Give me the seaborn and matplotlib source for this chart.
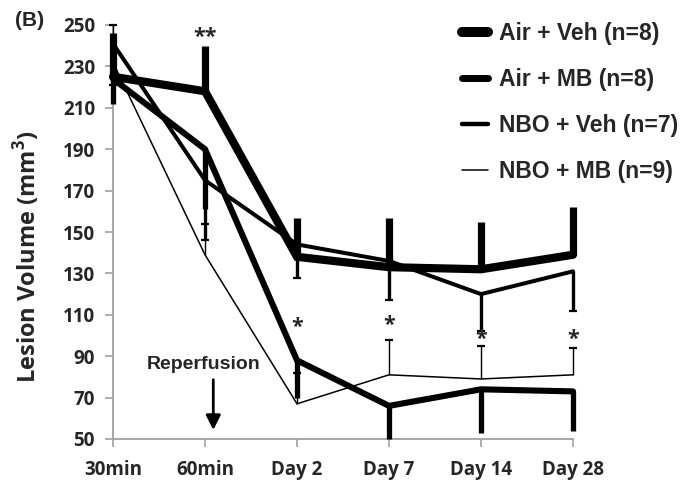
import numpy as np
import pandas as pd
import matplotlib
matplotlib.use("Agg")
import matplotlib.pyplot as plt
import seaborn as sns

# ---- data ----
x_labels = ["30min", "60min", "Day 2", "Day 7", "Day 14", "Day 28"]
air_veh = [225, 218, 138, 133, 132, 139]
air_veh_err_up = [21, 22, 19, 24, 23, 23]
air_mb = [224, 190, 88, 66, 74, 73]
air_mb_err_down = [12, 29, 18, 16, 21, 19]
nbo_veh = [241, 175, 144, 136, 120, 131]
nbo_veh_err_down = [20, 29, 16, 19, 18, 19]
nbo_mb = [232, 139, 67, 81, 79, 81]
nbo_mb_err_up = [18, 15, 15, 17, 16, 13]
series_labels = ["Air + Veh (n=8)", "Air + MB (n=8)", "NBO + Veh (n=7)", "NBO + MB (n=9)"]
star_pos = [1, 2, 3, 4, 5]
star_text = ["**", "*", "*", "*", "*"]
star_y = [244, 104, 105, 98, 98]
y_ticks = [50, 70, 90, 110, 130, 150, 170, 190, 210, 230, 250]

sns.set_style("white")
plt.rcParams['font.family'] = ['Open Sans', 'DejaVu Sans']

fig = plt.figure(figsize=(6.88, 4.83), dpi=100)
ax = fig.add_axes([113/688, 1-439/483, (573-113)/688, (439-25)/483])

xpos = np.arange(len(x_labels))
widths = [5.9, 4.4, 2.9, 1.1]
values = [air_veh, air_mb, nbo_veh, nbo_mb]

for vals, lw, lab in zip(values, widths, series_labels):
    df = pd.DataFrame({"x": xpos, "y": vals})
    sns.lineplot(data=df, x="x", y="y", ax=ax, color="black", linewidth=lw,
                 label=lab, clip_on=False, zorder=3, solid_joinstyle='miter')

# error bars (one-sided)
def ebar(vals, err, direction, lw, cap):
    vals = np.asarray(vals, float)
    err = np.asarray(err, float)
    ends = vals + direction * err
    ax.vlines(xpos, vals, ends, color="black", linewidth=lw, clip_on=False, zorder=3)
    if cap:
        ax.scatter(xpos, ends, marker="_", s=30, linewidths=1.6, color="black",
                   clip_on=False, zorder=3)

ebar(air_veh, air_veh_err_up, 1, 5.2, False)
ebar(air_mb, air_mb_err_down, -1, 3.8, False)
ebar(nbo_veh, nbo_veh_err_down, -1, 2.4, True)
ebar(nbo_mb, nbo_mb_err_up, 1, 1.0, True)

for xp, t, yv in zip(star_pos, star_text, star_y):
    ax.text(xp, yv, t, ha="center", va="center", fontsize=15.5, fontweight="bold",
            family=["Open Sans", "DejaVu Sans"])

ax.set_xlim(0, 5)
ax.set_ylim(50, 250)
ax.set_xticks(xpos)
ax.set_xticklabels(x_labels)
ax.set_yticks(y_ticks)
for lab in ax.get_xticklabels() + ax.get_yticklabels():
    lab.set_fontweight("bold")
    lab.set_fontsize(13.5)
ax.tick_params(axis="both", direction="out", length=6, width=1.2, color="#a0a0a0",
               left=True, bottom=True)
ax.tick_params(axis="x", pad=9)
ax.tick_params(axis="y", pad=7)
for s in ["top", "right"]:
    ax.spines[s].set_visible(False)
for s in ["left", "bottom"]:
    ax.spines[s].set_color("#a0a0a0")
    ax.spines[s].set_linewidth(1.3)

ax.set_xlabel("")
ax.set_ylabel("Lesion Volume (mm$^\\mathregular{3}$)", fontsize=17, fontweight="bold")
ax.yaxis.label.set_verticalalignment("center")
ax.yaxis.set_label_coords((27-113)/460, (439-257)/414)

# Reperfusion annotation
ax.text(0.99, 86, "Reperfusion", ha="center", va="center", fontsize=14,
        fontweight="bold", family=["Liberation Sans", "DejaVu Sans"])
ax.annotate("", xy=(1.09, 53), xytext=(1.09, 80),
            arrowprops=dict(arrowstyle="-|>", lw=2, color="black", mutation_scale=22))

fig.text(15/688, 1-21/483, "(B)", ha="left", va="center", fontsize=15,
         fontweight="bold", family=["Liberation Sans", "DejaVu Sans"])

leg = ax.legend(loc="upper left", bbox_to_anchor=(462/688, 1-22/483),
                bbox_transform=fig.transFigure, frameon=False,
                prop={"family": "Liberation Sans", "weight": "bold", "size": 16.5},
                handlelength=1.14, handletextpad=0.48, labelspacing=1.0,
                borderpad=0, borderaxespad=0)
for h, w in zip(leg.legend_handles, [7.2, 5.0, 3.2, 1.1]):
    h.set_solid_capstyle("round")
    h.set_linewidth(w)

fig.savefig("out.png", dpi=100)
